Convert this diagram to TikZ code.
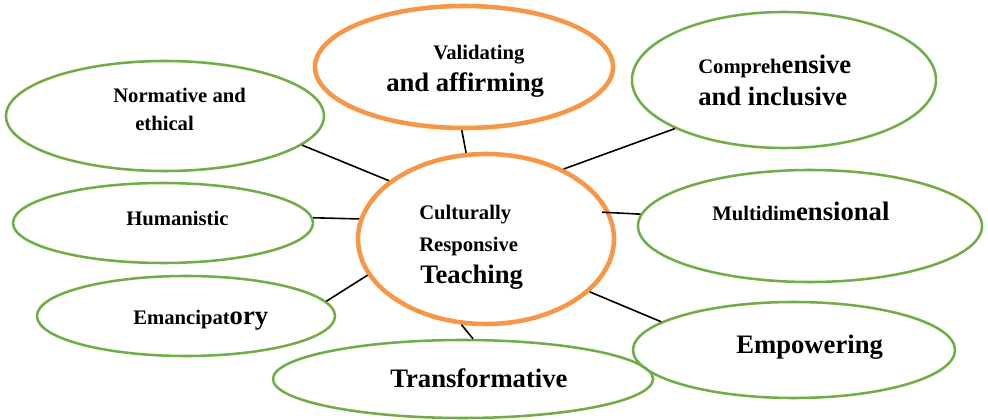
\documentclass[tikz,border=0pt]{standalone}
\usepackage{fontspec}
\setmainfont{Liberation Serif}[BoldFont={Liberation Serif Bold}]
\usetikzlibrary{shapes.geometric}
\definecolor{leafgreen}{HTML}{70AD47}
\definecolor{huborange}{HTML}{F79646}
\newcommand\lblsmall{\fontsize{15.5}{18}\selectfont}
\newcommand\lbllarge{\fontsize{20}{23}\selectfont}
\begin{document}
\begin{tikzpicture}[x=0.75pt,y=-0.75pt,
  leaf/.style={ellipse, draw=leafgreen, line width=1.9pt, inner sep=0pt},
  hub/.style={ellipse, draw=huborange, line width=3.4pt, inner sep=0pt},
  link/.style={draw=black, line width=1.2pt},
  lbl/.style={anchor=base west, inner sep=0pt, font=\bfseries\lblsmall},
  lblbig/.style={lbl, font=\bfseries\lbllarge}]
\useasboundingbox (0,0) rectangle (988,420);

% central concept and its eight qualities
\node[hub, minimum width=192pt, minimum height=127.5pt] (crt) at (486,239) {};
\node[hub, minimum width=223.5pt, minimum height=91.5pt] (val) at (464,67) {};
\node[leaf, minimum width=238.5pt, minimum height=82.5pt] (norm) at (165,116) {};
\node[leaf, minimum width=225pt, minimum height=60pt] (hum) at (163,223) {};
\node[leaf, minimum width=223.5pt, minimum height=60pt] (eman) at (186,316) {};
\node[leaf, minimum width=228pt, minimum height=102pt] (comp) at (784,80) {};
\node[leaf, minimum width=258pt, minimum height=84pt] (mul) at (810,226) {};
\node[leaf, minimum width=241.5pt, minimum height=72pt] (emp) at (794,350) {};
\node[leaf, minimum width=285pt, minimum height=58.5pt] (trans) at (463,379) {};

% labels
\node[lbl] (crt-a) at (419,220) {Culturally};
\node[lbl] (crt-b) at (419,252) {Responsive};
\node[lblbig] (crt-c) at (420,283) {Teaching};
\node[lbl] (val-a) at (433,60) {Validating};
\node[lblbig] (val-b) at (386,92) {and affirming};
\node[lbl] (norm-a) at (113,103) {Normative and};
\node[lbl] (norm-b) at (135,131) {ethical};
\node[lbl] (hum-a) at (126,226) {Humanistic};
\node[lbl] (eman-a) at (133,324) {Emancipat{\lbllarge ory}};
\node[lbl] (comp-a) at (698,74) {Compreh{\lbllarge ensive}};
\node[lblbig] (comp-b) at (698,106) {and inclusive};
\node[lbl] (mul-a) at (712,221) {Multidim{\lbllarge ensional}};
\node[lblbig] (emp-a) at (736,353) {Empowering};
\node[lblbig] (trans-a) at (390,387) {Transformative};

% spokes
\draw[link] (norm.-12) -- (crt.149);
\draw[link] (val.-92) -- (crt.103);
\draw[link] (comp.204) -- (crt.42);
\draw[link] (hum.2) -- (crt.171);
\draw[link, shorten <=-6pt] (crt.12) -- (mul.176);
\draw[link] (eman.6) -- (crt.197);
\draw[link] (emp.168) -- (crt.-27);
\draw[link] (trans.76) -- (crt.-106);
\end{tikzpicture}
\end{document}
